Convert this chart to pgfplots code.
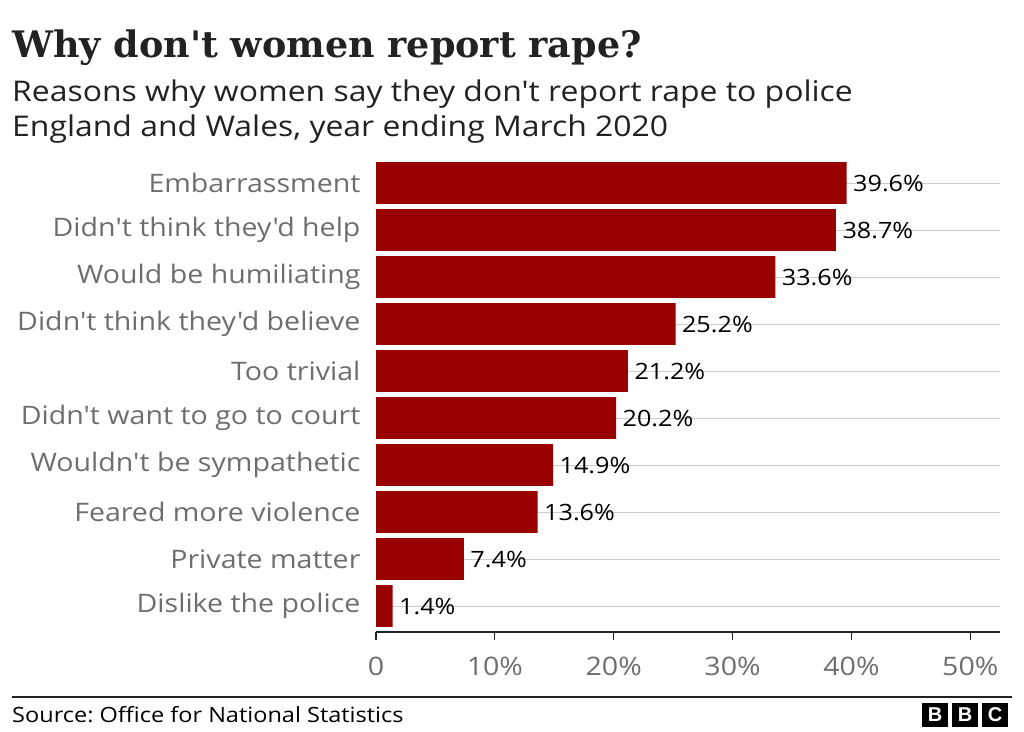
\documentclass[border=0pt]{standalone}
\usepackage{pgfplots}
\pgfplotsset{compat=1.18}
\usepackage{fontspec}
\setmainfont{Open Sans}[FakeStretch=1.12, Ligatures=TeXOff]
\newfontfamily\titlefont{DejaVu Serif}[Ligatures=TeXOff]
\newfontfamily\logofont{Liberation Sans}
\definecolor{barred}{HTML}{990000}
\definecolor{txt}{HTML}{222222}
\definecolor{lab}{HTML}{6E6E6E}
\definecolor{gridc}{HTML}{CCCCCC}
\frenchspacing
\begin{document}
\begin{tikzpicture}[x=1pt,y=1pt]
\path (0,0) rectangle (1024,731);
\node[anchor=base west,inner sep=0,text=txt] at (12,673) {\titlefont\bfseries\fontsize{36.5}{44}\selectfont Why don't women report rape?};
\node[anchor=base west,inner sep=0,text=txt] at (12,629) {\fontsize{28.5}{34}\selectfont Reasons why women say they don't report rape to police};
\node[anchor=base west,inner sep=0,text=txt] at (12,594) {\fontsize{28.5}{34}\selectfont England and Wales, year ending March 2020};
\begin{axis}[
  at={(376pt,99pt)}, anchor=south west,
  scale only axis, width=624pt, height=472pt,
  xbar, bar width=0.89, bar shift=0pt,
  xmin=0, xmax=52.5, ymin=-0.553, ymax=9.49,
  axis x line=bottom, axis y line=left,
  x axis line style={-, line width=2.5pt, color=txt},
  y axis line style={draw=none},
  xtick={0,10,20,30,40,50},
  xticklabels={0,10\%,20\%,30\%,40\%,50\%},
  xtick align=outside, major tick length=8pt,
  x tick style={line width=1.2pt, color=txt},
  ytick={0,...,9},
  yticklabels={Dislike the police,Private matter,Feared more violence,Wouldn't be sympathetic,Didn't want to go to court,Too trivial,Didn't think they'd believe,Would be humiliating,Didn't think they'd help,Embarrassment},
  ymajorgrids, y grid style={gridc, line width=1pt},
  y tick style={draw=none},
  /pgf/number format/assume math mode=true,
  ticklabel style={font=\fontsize{25.5}{30}\selectfont, text=lab},
  yticklabel style={xshift=-8pt},
  xticklabel style={yshift=-13pt},
  nodes near coords={\pgfmathprintnumber[fixed,precision=1,fixed zerofill,assume math mode=true]{\pgfplotspointmeta}\%},
  nodes near coords style={anchor=west, font=\fontsize{22.5}{26}\selectfont, text=black, xshift=3pt},
  point meta=x,
]
\addplot[fill=barred, draw=none] coordinates {
(1.4,0) (7.4,1) (13.6,2) (14.9,3) (20.2,4) (21.2,5) (25.2,6) (33.6,7) (38.7,8) (39.6,9)};
\end{axis}
\draw[txt, line width=1.2pt] (12,34) -- (1012,34);
\node[anchor=base west,inner sep=0,text=black] at (12,9) {\fontsize{21}{25}\selectfont Source: Office for National Statistics};
\foreach \i/\l in {0/B,1/B,2/C}{
  \fill[black] ({922+\i*30},4) rectangle ({948+\i*30},28);
  \node[text=white,font=\logofont\bfseries\fontsize{20}{24}\selectfont,inner sep=0] at ({935+\i*30},16) {\l};
}
\end{tikzpicture}
\end{document}
